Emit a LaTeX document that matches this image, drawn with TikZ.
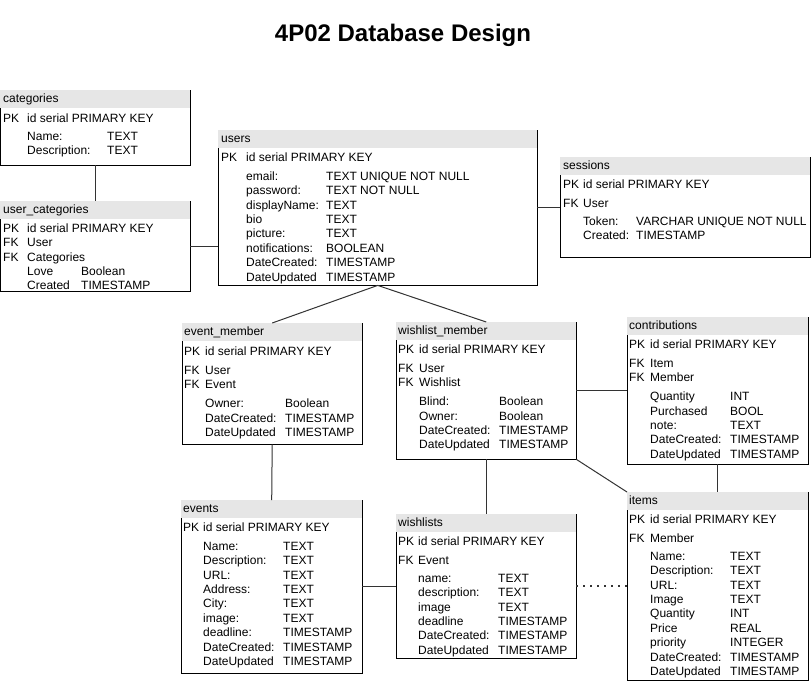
\documentclass[tikz,border=0pt]{standalone}
\usepackage{fontspec}
\setmainfont{Liberation Sans}
\usetikzlibrary{calc}
\definecolor{hdrgray}{RGB}{230,230,230}

\begin{document}
\begin{tikzpicture}[x=1pt,y=-1pt,
    tbl/.style={draw=none,anchor=north west,inner sep=0pt},
    tblrows/.style={anchor=north west,inner sep=0pt,yshift=-0.8pt,font=\fontsize{12}{14.4}\selectfont},
    tblhead/.style={anchor=west,inner sep=0pt,yshift=-0.8pt,text height=8.6pt,text depth=2.5pt,font=\fontsize{12}{14.4}\selectfont},
    tblline/.style={line width=1pt,draw=black},
    link/.style={line width=1pt,draw=black!80}]
    \useasboundingbox (0,0) rectangle (811,681);
    \node[font=\fontsize{24}{28}\selectfont\bfseries] (title) at (403,35) {4P02 Database Design};
    % categories
    \node[tbl,minimum width=190pt,minimum height=75pt] (cat) at (0,90) {};
    \fill[hdrgray] (cat.north west) rectangle ($(cat.north east)+(0,18)$);
    \draw[tblline] ($(cat.north west)+(0,18)$) |- (cat.south east) -- (cat.north east);
    \node[tblhead] (cat-h) at ($(cat.north west)+(3,9)$) {categories};
    \node[tblrows] (cat-r) at (3,111.2) {\begin{tabular}{@{}p{24pt}@{}p{80pt}@{}l@{}}
      PK & \multicolumn{2}{@{}l@{}}{id serial PRIMARY KEY}\\[3.6pt]
      & Name: & TEXT\\
      & Description: & TEXT
    \end{tabular}};
    % user_categories
    \node[tbl,minimum width=190pt,minimum height=90pt] (uc) at (0,201) {};
    \fill[hdrgray] (uc.north west) rectangle ($(uc.north east)+(0,18)$);
    \draw[tblline] ($(uc.north west)+(0,18)$) |- (uc.south east) -- (uc.north east);
    \node[tblhead] (uc-h) at ($(uc.north west)+(3,9)$) {user\_categories};
    \node[tblrows] (uc-r) at (3,221.2) {\begin{tabular}{@{}p{24pt}@{}p{54pt}@{}l@{}}
      PK & \multicolumn{2}{@{}l@{}}{id serial PRIMARY KEY}\\
      FK & User\\
      FK & Categories\\
      & Love & Boolean\\
      & Created & TIMESTAMP
    \end{tabular}};
    % users
    \node[tbl,minimum width=319pt,minimum height=155pt] (users) at (218,130) {};
    \fill[hdrgray] (users.north west) rectangle ($(users.north east)+(0,18)$);
    \draw[tblline] ($(users.north west)+(0,18)$) |- (users.south east) -- (users.north east);
    \node[tblhead] (users-h) at ($(users.north west)+(3,9)$) {users};
    \node[tblrows] (users-r) at (221,150.2) {\begin{tabular}{@{}p{25pt}@{}p{80pt}@{}l@{}}
      PK & \multicolumn{2}{@{}l@{}}{id serial PRIMARY KEY}\\[4.6pt]
      & email: & TEXT UNIQUE NOT NULL\\
      & password: & TEXT NOT NULL\\
      & displayName: & TEXT\\
      & bio & TEXT\\
      & picture: & TEXT\\
      & notifications: & BOOLEAN\\
      & DateCreated: & TIMESTAMP\\
      & DateUpdated & TIMESTAMP
    \end{tabular}};
    % sessions
    \node[tbl,minimum width=250pt,minimum height=100pt] (ses) at (560,157) {};
    \fill[hdrgray] (ses.north west) rectangle ($(ses.north east)+(0,18)$);
    \draw[tblline] ($(ses.north west)+(0,18)$) |- (ses.south east) -- (ses.north east);
    \node[tblhead] (ses-h) at ($(ses.north west)+(3,9)$) {sessions};
    \node[tblrows] (ses-r) at (563,177.2) {\begin{tabular}{@{}p{20pt}@{}p{53pt}@{}l@{}}
      PK & \multicolumn{2}{@{}l@{}}{id serial PRIMARY KEY}\\[4.6pt]
      FK & User\\[3.6pt]
      & Token: & VARCHAR UNIQUE NOT NULL\\
      & Created: & TIMESTAMP
    \end{tabular}};
    % event_member
    \node[tbl,minimum width=180pt,minimum height=121pt] (evm) at (182,323) {};
    \fill[hdrgray] (evm.north west) rectangle ($(evm.north east)+(0,18)$);
    \draw[tblline] ($(evm.north west)+(0,18)$) |- (evm.south east) -- (evm.north east);
    \node[tblhead] (evm-h) at ($(evm.north west)+(2,9)$) {event\_member};
    \node[tblrows] (evm-r) at (184,344.2) {\begin{tabular}{@{}p{21pt}@{}p{80pt}@{}l@{}}
      PK & \multicolumn{2}{@{}l@{}}{id serial PRIMARY KEY}\\[4.6pt]
      FK & User\\
      FK & Event\\[4.6pt]
      & Owner: & Boolean\\
      & DateCreated: & TIMESTAMP\\
      & DateUpdated & TIMESTAMP
    \end{tabular}};
    % wishlist_member
    \node[tbl,minimum width=180pt,minimum height=137pt] (wlm) at (396,322) {};
    \fill[hdrgray] (wlm.north west) rectangle ($(wlm.north east)+(0,18)$);
    \draw[tblline] ($(wlm.north west)+(0,18)$) |- (wlm.south east) -- (wlm.north east);
    \node[tblhead] (wlm-h) at ($(wlm.north west)+(2,9)$) {wishlist\_member};
    \node[tblrows] (wlm-r) at (398,342.2) {\begin{tabular}{@{}p{21pt}@{}p{80pt}@{}l@{}}
      PK & \multicolumn{2}{@{}l@{}}{id serial PRIMARY KEY}\\[4.6pt]
      FK & User\\
      FK & Wishlist\\[4.6pt]
      & Blind: & Boolean\\
      & Owner: & Boolean\\
      & DateCreated: & TIMESTAMP\\
      & DateUpdated & TIMESTAMP
    \end{tabular}};
    % contributions
    \node[tbl,minimum width=181pt,minimum height=147pt] (con) at (627,317) {};
    \fill[hdrgray] (con.north west) rectangle ($(con.north east)+(0,18)$);
    \draw[tblline] ($(con.north west)+(0,18)$) |- (con.south east) -- (con.north east);
    \node[tblhead] (con-h) at ($(con.north west)+(2,9)$) {contributions};
    \node[tblrows] (con-r) at (629,337.2) {\begin{tabular}{@{}p{21pt}@{}p{80pt}@{}l@{}}
      PK & \multicolumn{2}{@{}l@{}}{id serial PRIMARY KEY}\\[4.6pt]
      FK & Item\\
      FK & Member\\[4.6pt]
      & Quantity & INT\\
      & Purchased & BOOL\\
      & note: & TEXT\\
      & DateCreated: & TIMESTAMP\\
      & DateUpdated & TIMESTAMP
    \end{tabular}};
    % events
    \node[tbl,minimum width=181pt,minimum height=173pt] (evt) at (181,500) {};
    \fill[hdrgray] (evt.north west) rectangle ($(evt.north east)+(0,18)$);
    \draw[tblline] ($(evt.north west)+(0,18)$) |- (evt.south east) -- (evt.north east);
    \node[tblhead] (evt-h) at ($(evt.north west)+(2,9)$) {events};
    \node[tblrows] (evt-r) at (183,520.2) {\begin{tabular}{@{}p{20pt}@{}p{80pt}@{}l@{}}
      PK & \multicolumn{2}{@{}l@{}}{id serial PRIMARY KEY}\\[4.6pt]
      & Name: & TEXT\\
      & Description: & TEXT\\
      & URL: & TEXT\\
      & Address: & TEXT\\
      & City: & TEXT\\
      & image: & TEXT\\
      & deadline: & TIMESTAMP\\
      & DateCreated: & TIMESTAMP\\
      & DateUpdated & TIMESTAMP
    \end{tabular}};
    % wishlists
    \node[tbl,minimum width=180pt,minimum height=144pt] (wl) at (396,514) {};
    \fill[hdrgray] (wl.north west) rectangle ($(wl.north east)+(0,18)$);
    \draw[tblline] ($(wl.north west)+(0,18)$) |- (wl.south east) -- (wl.north east);
    \node[tblhead] (wl-h) at ($(wl.north west)+(2,9)$) {wishlists};
    \node[tblrows] (wl-r) at (398,534.2) {\begin{tabular}{@{}p{20pt}@{}p{80pt}@{}l@{}}
      PK & \multicolumn{2}{@{}l@{}}{id serial PRIMARY KEY}\\[4.6pt]
      FK & Event\\[3.6pt]
      & name: & TEXT\\
      & description: & TEXT\\
      & image & TEXT\\
      & deadline & TIMESTAMP\\
      & DateCreated: & TIMESTAMP\\
      & DateUpdated & TIMESTAMP
    \end{tabular}};
    % items
    \node[tbl,minimum width=181pt,minimum height=188pt] (itm) at (627,492) {};
    \fill[hdrgray] (itm.north west) rectangle ($(itm.north east)+(0,18)$);
    \draw[tblline] ($(itm.north west)+(0,18)$) |- (itm.south east) -- (itm.north east);
    \node[tblhead] (itm-h) at ($(itm.north west)+(2,9)$) {items};
    \node[tblrows] (itm-r) at (629,512.2) {\begin{tabular}{@{}p{21pt}@{}p{80pt}@{}l@{}}
      PK & \multicolumn{2}{@{}l@{}}{id serial PRIMARY KEY}\\[4.6pt]
      FK & Member\\[3.6pt]
      & Name: & TEXT\\
      & Description: & TEXT\\
      & URL: & TEXT\\
      & Image & TEXT\\
      & Quantity & INT\\
      & Price & REAL\\
      & priority & INTEGER\\
      & DateCreated: & TIMESTAMP\\
      & DateUpdated & TIMESTAMP
    \end{tabular}};
    % links
    \draw[link] (cat.south) -- (uc.north);
    \draw[link] (uc.east) -- (uc.east -| users.west);
    \draw[link] (users.east) -- (users.east -| ses.west);
    \draw[link] (users.south) -- (evm.north);
    \draw[link] (users.south) -- (wlm.north);
    \draw[link] (evm.south) -- (evt.north);
    \draw[link] (wlm.south) -- (wl.north);
    \draw[link] (wlm.east) -- (con.west);
    \draw[link] (wlm.south east) -- (itm.north west);
    \draw[link] (con.south) -- (itm.north);
    \draw[link] (evt.east) -- (evt.east -| wl.west);
    \draw[link,line width=1.5pt,dash pattern=on 1.5pt off 5.5pt] (wl.east) -- (wl.east -| itm.west);
\end{tikzpicture}
\end{document}
